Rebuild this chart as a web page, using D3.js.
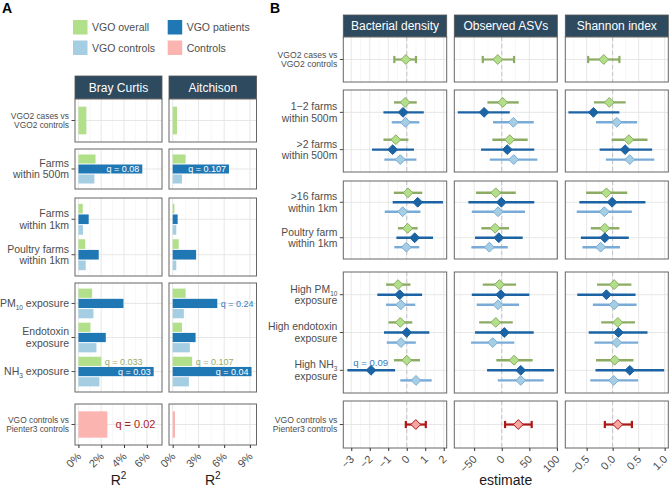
<!DOCTYPE html>
<html>
<head>
<meta charset="utf-8">
<script src="https://cdn.jsdelivr.net/npm/d3@7"></script>
<style>
  body { margin: 0; background: #fff; }
  svg { display: block; font-family: "Liberation Sans", Arial, sans-serif; }
</style>
</head>
<body>
<script>
// ---------- data ----------
var seriesKeys = ["overall", "patients", "controls", "pienter"];
var seriesNames = ["VGO overall", "VGO patients", "VGO controls", "Controls"];

// panel A: PERMANOVA R2 (%)
var exposuresA = ["VGO2 cases vs\nVGO2 controls", "Farms\nwithin 500m", "Farms\nwithin 1km", "Poultry farms\nwithin 1km",
  "PM{10} exposure", "Endotoxin\nexposure", "NH{3} exposure", "VGO controls vs\nPienter3 controls"];
var rowOfA = [0, 1, 2, 2, 3, 3, 3, 4];

var brayOverall  = [0.7, 1.5, 0.38, 0.6, 1.2, 1.05, 2.0, null];
var brayPatients = [null, 5.6, 0.9, 1.78, 3.95, 2.4, 6.6, null];
var brayControls = [null, 1.4, 0.4, 0.64, 1.32, 1.58, 1.84, null];
var brayPienter  = [null, null, null, null, null, null, null, 2.54];
var aitchOverall  = [0.5, 1.5, 0.2, 0.7, 1.5, 1.08, 2.27, null];
var aitchPatients = [null, 6.56, 0.58, 2.73, 5.2, 2.67, 9.19, null];
var aitchControls = [null, 1.08, 0.42, 0.42, 1.3, 2.0, 1.89, null];
var aitchPienter  = [null, null, null, null, null, null, null, 0.27];

var brayQOverall  = [null, null, null, null, null, null, "q = 0.033", null];
var brayQPatients = [null, "q = 0.08", null, null, null, null, "q = 0.03", null];
var brayQPienter  = [null, null, null, null, null, null, null, "q = 0.02"];
var aitchQOverall  = [null, null, null, null, null, null, "q = 0.107", null];
var aitchQPatients = [null, "q = 0.107", null, null, "q = 0.24", null, "q = 0.04", null];

var ticksBray = [0, 2, 4, 6];
var ticksAitch = [0, 3, 6, 9];

// panel B: estimate, lower, upper
var exposuresB = ["VGO2 cases vs\nVGO2 controls", "1\u22122 farms\nwithin 500m", ">2 farms\nwithin 500m", ">16 farms\nwithin 1km",
  "Poultry farm\nwithin 1km", "High PM{10}\nexposure", "High endotoxin\nexposure", "High NH{3}\nexposure",
  "VGO controls vs\nPienter3 controls"];
var rowOfB = [0, 1, 1, 2, 2, 3, 3, 3, 4];

var densityOverall  = [[-0.05, -0.67, 0.50], [-0.09, -0.69, 0.54], [-0.59, -1.26, 0.09], [0.07, -0.70, 0.84], [0.05, -0.47, 0.59], [-0.47, -1.12, 0.20], [-0.35, -0.99, 0.30], [0.00, -0.69, 0.72], null];
var densityPatients = [null, [-0.20, -1.26, 0.92], [-0.76, -1.88, 0.39], [0.59, -0.76, 1.96], [0.43, -0.56, 1.42], [-0.38, -1.59, 0.83], [0.00, -1.23, 1.22], [-1.93, -3.21, -0.63], null];
var densityControls = [null, [-0.07, -0.81, 0.68], [-0.35, -1.21, 0.52], [-0.22, -1.19, 0.74], [-0.02, -0.67, 0.68], [-0.32, -1.12, 0.46], [-0.31, -1.08, 0.49], [0.50, -0.35, 1.35], null];
var densityPienter  = [null, null, null, null, null, null, null, null, [0.49, -0.05, 1.03]];

var asvOverall  = [[-7.2, -34.4, 22.3], [1.8, -26, 30.8], [14.5, -17, 47], [-10.9, -46.6, 25.4], [-12.1, -37, 13.2], [-4.3, -34.4, 25.9], [-10.9, -41, 20], [22.3, -9.8, 56], null];
var asvPatients = [null, [-32, -79.7, 14.5], [10, -37.5, 59], [-0.7, -60.5, 59], [-5.4, -48.4, 38], [-1.8, -54.3, 50], [4.7, -48.4, 58], [34.4, -26.6, 94.7], null];
var asvControls = [null, [21, -15.8, 58], [21.7, -21.7, 64.5], [-6.7, -54.3, 42.2], [-22.5, -55, 10.9], [-6.7, -45.3, 31.3], [-16.3, -55.6, 22.8], [34.4, -7.2, 76], null];
var asvPienter  = [null, null, null, null, null, null, null, null, [30, 6, 54.3]];

var shannonOverall  = [[-0.17, -0.47, 0.13], [-0.065, -0.36, 0.25], [0.31, -0.02, 0.67], [-0.12, -0.51, 0.28], [-0.15, -0.42, 0.13], [0.03, -0.30, 0.36], [0.10, -0.22, 0.43], [0.04, -0.32, 0.40], null];
var shannonPatients = [null, [-0.37, -0.85, 0.13], [0.24, -0.25, 0.76], [-0.01, -0.64, 0.63], [-0.15, -0.61, 0.31], [-0.12, -0.68, 0.44], [0.11, -0.46, 0.67], [0.33, -0.33, 0.99], null];
var shannonControls = [null, [0.08, -0.32, 0.47], [0.33, -0.13, 0.80], [-0.16, -0.69, 0.37], [-0.23, -0.58, 0.14], [0.03, -0.38, 0.46], [0.08, -0.35, 0.49], [0.02, -0.43, 0.49], null];
var shannonPienter  = [null, null, null, null, null, null, null, null, [0.10, -0.15, 0.37]];

var densityQPatients = [null, null, null, null, null, null, null, "q = 0.09", null];

var ticksDensity = [-3, -2, -1, 0, 1, 2];
var ticksAsv = [-50, 0, 50, 100];
var ticksShannon = [-0.5, 0, 0.5, 1];

// ---------- layout / styles ----------
var fillA = { overall: "#b2df8a", patients: "#1f78b4", controls: "#a6cee3", pienter: "#fcb4b0" };
var qColor = { overall: "#93ad6c", patients: "#2f7cbf", controls: "#6fa6d6", pienter: "#a81c1c" };
var lineB = { overall: "#8bab63", patients: "#1b63a3", controls: "#79abd8", pienter: "#ad1717" };
var fillB = { overall: "#b2df8a", patients: "#1b63a3", controls: "#a6cee3", pienter: "#f6a7a2" };
var stripFill = "#2d4a5f";
var textGrey = "#4d4d4d";

var colsA = [[75, 162], [169, 256.5]];
var stripA = [76, 99];
var rowsA = [[99, 142], [149, 189], [198, 276], [283, 392], [404, 445]];
var colsB = [[343.3, 446.7], [454.3, 557.3], [565.3, 668.3]];
var stripB = [15, 37];
var rowsB = [[37, 82], [90, 172], [181, 259], [272, 393], [401, 448]];

var svg = d3.select("body").append("svg")
  .attr("width", 669)
  .attr("height", 488);

// multi-line label with {subscript} markup
function addLabel(sel, x, y, label, size, anchor, fill) {
  var lines = label.split("\n");
  var lh = size * 1.1;
  var t = sel.append("text")
    .attr("text-anchor", anchor)
    .attr("font-size", size)
    .attr("fill", fill);
  lines.forEach(function(ln, k) {
    var by = y + (k - (lines.length - 1) / 2) * lh + size * 0.35;
    var parts = ln.split(/(\{[^}]*\})/).filter(function(p) { return p.length; });
    parts.forEach(function(p, j) {
      var ts = t.append("tspan");
      if (j === 0) ts.attr("x", x).attr("y", by);
      if (p[0] === "{") {
        ts.text(p.slice(1, -1)).attr("font-size", size * 0.62).attr("baseline-shift", -size * 0.28);
      } else {
        ts.text(p);
      }
    });
  });
  return t;
}

function line(g, x1, y1, x2, y2, stroke, w) {
  return g.append("line").attr("x1", x1).attr("y1", y1).attr("x2", x2).attr("y2", y2)
    .attr("stroke", stroke).attr("stroke-width", w);
}

function minorsOf(ticks, domain) {
  var step = ticks[1] - ticks[0];
  var out = [];
  for (var v = ticks[0] - step / 2; v <= domain[1]; v += step) {
    if (v >= domain[0]) out.push(v);
  }
  return out.filter(function(v) { return ticks.indexOf(v) < 0; });
}

function strip(g, x0, x1, y0, y1, title) {
  g.append("rect").attr("x", x0).attr("y", y0).attr("width", x1 - x0).attr("height", y1 - y0)
    .attr("fill", stripFill).attr("stroke", "#555").attr("stroke-width", 0.8);
  g.append("text").attr("x", (x0 + x1) / 2).attr("y", (y0 + y1) / 2 + 4.2)
    .attr("text-anchor", "middle").attr("font-size", 12).attr("fill", "#fff").text(title);
}

function bottomAxis(g, x, ticks, fmt, y) {
  var ax = g.append("g").attr("transform", "translate(0," + y + ")")
    .call(d3.axisBottom(x).tickValues(ticks).tickSize(3).tickFormat(fmt));
  ax.select(".domain").remove();
  ax.selectAll(".tick line").attr("stroke", "#333");
  ax.selectAll(".tick text")
    .attr("y", 0).attr("dy", 0)
    .attr("transform", "translate(3,12) rotate(-45)")
    .attr("text-anchor", "end")
    .attr("font-size", 11)
    .attr("font-family", "Liberation Sans, Arial, sans-serif")
    .attr("fill", textGrey);
}

// ---------- panel titles ----------
svg.append("text").attr("x", 2).attr("y", 13).attr("font-size", 14).attr("font-weight", "bold").text("A");
svg.append("text").attr("x", 270).attr("y", 13).attr("font-size", 14).attr("font-weight", "bold").text("B");

// ---------- legend ----------
var legendPos = [[73, 20], [167.7, 20], [73, 40.5], [167.7, 40.5]];
seriesKeys.forEach(function(k, i) {
  var p = legendPos[i];
  svg.append("rect").attr("x", p[0]).attr("y", p[1]).attr("width", 14.5).attr("height", 14.5).attr("fill", fillA[k]);
  svg.append("text").attr("x", p[0] + 19).attr("y", p[1] + 11).attr("font-size", 10.5)
    .attr("fill", textGrey).text(seriesNames[i]);
});

// ---------- panel A ----------
function drawA(ci, title, series, qs, domain, ticks) {
  var x0 = colsA[ci][0], x1 = colsA[ci][1];
  var g = svg.append("g");
  var x = d3.scaleLinear().domain(domain).range([x0, x1]);
  var minors = minorsOf(ticks, domain);
  strip(g, x0, x1, stripA[0], stripA[1], title);

  rowsA.forEach(function(r, ri) {
    var idx = exposuresA.map(function(e, i) { return i; }).filter(function(i) { return rowOfA[i] === ri; });
    var y = d3.scalePoint().domain(idx).range([r[0], r[1]]).padding(0.6);
    g.append("rect").attr("x", x0).attr("y", r[0]).attr("width", x1 - x0).attr("height", r[1] - r[0]).attr("fill", "#fff");
    minors.forEach(function(v) { line(g, x(v), r[0], x(v), r[1], "#f2f2f2", 0.6); });
    ticks.forEach(function(v) { line(g, x(v), r[0], x(v), r[1], "#e4e4e4", 0.9); });
    idx.forEach(function(i) { line(g, x0, y(i), x1, y(i), "#e4e4e4", 0.9); });

    idx.forEach(function(i) {
      var present = seriesKeys.filter(function(k) { return series[k][i] != null; });
      var w = (present.length > 1 ? 0.9 : 0.8) * y.step();
      var sub = d3.scaleBand().domain(present).range([y(i) - w / 2, y(i) + w / 2]);
      present.forEach(function(k) {
        var v = series[k][i];
        g.append("rect")
          .attr("x", x(0))
          .attr("y", sub(k) + 0.5)
          .attr("width", x(v) - x(0))
          .attr("height", sub.bandwidth() - 1)
          .attr("fill", fillA[k]);
        var q = qs[k] && qs[k][i];
        if (q) {
          var cy = sub(k) + sub.bandwidth() / 2;
          var big = k === "pienter";
          var fs = big ? 11 : 9;
          if (v >= 5.5) {
            g.append("text").attr("x", x(v) - 3).attr("y", cy + fs * 0.36).attr("text-anchor", "end")
              .attr("font-size", fs).attr("fill", "#fff").text(q);
          } else {
            g.append("text").attr("x", x(v) + (big ? 8 : 3.5)).attr("y", cy + fs * 0.36)
              .attr("font-size", fs).attr("fill", qColor[k]).text(q);
          }
        }
      });
      if (ci === 0) {
        line(g, x0 - 3.5, y(i), x0, y(i), "#333", 0.9);
        var small = ri === 0 || ri === rowsA.length - 1;
        addLabel(g, x0 - 6, y(i), exposuresA[i], small ? 8.4 : 10.5, "end", textGrey);
      }
    });
    g.append("rect").attr("x", x0).attr("y", r[0]).attr("width", x1 - x0).attr("height", r[1] - r[0])
      .attr("fill", "none").attr("stroke", "#666").attr("stroke-width", 1);
  });

  var bottom = rowsA[rowsA.length - 1][1];
  bottomAxis(g, x, ticks, function(d) { return d + "%"; }, bottom);
  var t = g.append("text").attr("x", (x0 + x1) / 2).attr("y", 485).attr("text-anchor", "middle")
    .attr("font-size", 14).attr("fill", "#1a1a1a");
  t.append("tspan").text("R");
  t.append("tspan").text("2").attr("font-size", 10).attr("baseline-shift", 6);
}

drawA(0, "Bray Curtis",
  { overall: brayOverall, patients: brayPatients, controls: brayControls, pienter: brayPienter },
  { overall: brayQOverall, patients: brayQPatients, pienter: brayQPienter },
  [-0.3, 7.33], ticksBray);
drawA(1, "Aitchison",
  { overall: aitchOverall, patients: aitchPatients, controls: aitchControls, pienter: aitchPienter },
  { overall: aitchQOverall, patients: aitchQPatients },
  [-0.43, 9.77], ticksAitch);

// ---------- panel B ----------
function diamond(r) {
  return "M0," + (-r) + "L" + r + ",0L0," + r + "L" + (-r) + ",0Z";
}

function drawB(ci, title, series, qs, domain, ticks, fmt) {
  var x0 = colsB[ci][0], x1 = colsB[ci][1];
  var g = svg.append("g");
  var x = d3.scaleLinear().domain(domain).range([x0, x1]);
  var minors = minorsOf(ticks, domain);
  strip(g, x0, x1, stripB[0], stripB[1], title);

  rowsB.forEach(function(r, ri) {
    var idx = exposuresB.map(function(e, i) { return i; }).filter(function(i) { return rowOfB[i] === ri; });
    var y = d3.scalePoint().domain(idx).range([r[0], r[1]]).padding(0.6);
    g.append("rect").attr("x", x0).attr("y", r[0]).attr("width", x1 - x0).attr("height", r[1] - r[0]).attr("fill", "#fff");
    minors.forEach(function(v) { line(g, x(v), r[0], x(v), r[1], "#f2f2f2", 0.6); });
    ticks.forEach(function(v) { line(g, x(v), r[0], x(v), r[1], "#e4e4e4", 0.9); });
    idx.forEach(function(i) { line(g, x0, y(i), x1, y(i), "#e4e4e4", 0.9); });
    line(g, x(0), r[0], x(0), r[1], "#c4c4c4", 1).attr("stroke-dasharray", "4,3");

    idx.forEach(function(i) {
      var present = seriesKeys.filter(function(k) { return series[k][i] != null; });
      var n = present.length;
      var dodge = 0.8 * y.step();
      present.forEach(function(k, j) {
        var d = series[k][i];
        var cy = y(i) + (n > 1 ? (j - (n - 1) / 2) * dodge / n : 0);
        line(g, x(d[1]), cy, x(d[2]), cy, lineB[k], n > 1 ? 2.4 : 2.2);
        if (n === 1) {
          line(g, x(d[1]), cy - 3.6, x(d[1]), cy + 3.6, lineB[k], 2.2);
          line(g, x(d[2]), cy - 3.6, x(d[2]), cy + 3.6, lineB[k], 2.2);
        }
        g.append("path").attr("d", diamond(4.9))
          .attr("transform", "translate(" + x(d[0]) + "," + cy + ")")
          .attr("fill", fillB[k]).attr("stroke", lineB[k]).attr("stroke-width", 1);
        var q = qs[k] && qs[k][i];
        if (q) {
          g.append("text").attr("x", x(d[1]) + 6).attr("y", cy - 4)
            .attr("font-size", 9.5).attr("fill", qColor[k]).text(q);
        }
      });
      if (ci === 0) {
        line(g, x0 - 3.5, y(i), x0, y(i), "#333", 0.9);
        var small = ri === 0 || ri === rowsB.length - 1;
        addLabel(g, x0 - 6, y(i), exposuresB[i], small ? 8.6 : 10.4, "end", textGrey);
      }
    });
    g.append("rect").attr("x", x0).attr("y", r[0]).attr("width", x1 - x0).attr("height", r[1] - r[0])
      .attr("fill", "none").attr("stroke", "#666").attr("stroke-width", 1);
  });

  var bottom = rowsB[rowsB.length - 1][1];
  bottomAxis(g, x, ticks, fmt, bottom);
}

drawB(0, "Bacterial density",
  { overall: densityOverall, patients: densityPatients, controls: densityControls, pienter: densityPienter },
  { patients: densityQPatients },
  [-3.43, 2.16], ticksDensity, d3.format("d"));
drawB(1, "Observed ASVs",
  { overall: asvOverall, patients: asvPatients, controls: asvControls, pienter: asvPienter },
  {},
  [-86, 100.7], ticksAsv, d3.format("d"));
drawB(2, "Shannon index",
  { overall: shannonOverall, patients: shannonPatients, controls: shannonControls, pienter: shannonPienter },
  {},
  [-0.91, 1.07], ticksShannon, d3.format(".1f"));

svg.append("text").attr("x", (colsB[0][0] + colsB[2][1]) / 2).attr("y", 485)
  .attr("text-anchor", "middle").attr("font-size", 14).attr("fill", "#1a1a1a").text("estimate");
</script>
</body>
</html>
